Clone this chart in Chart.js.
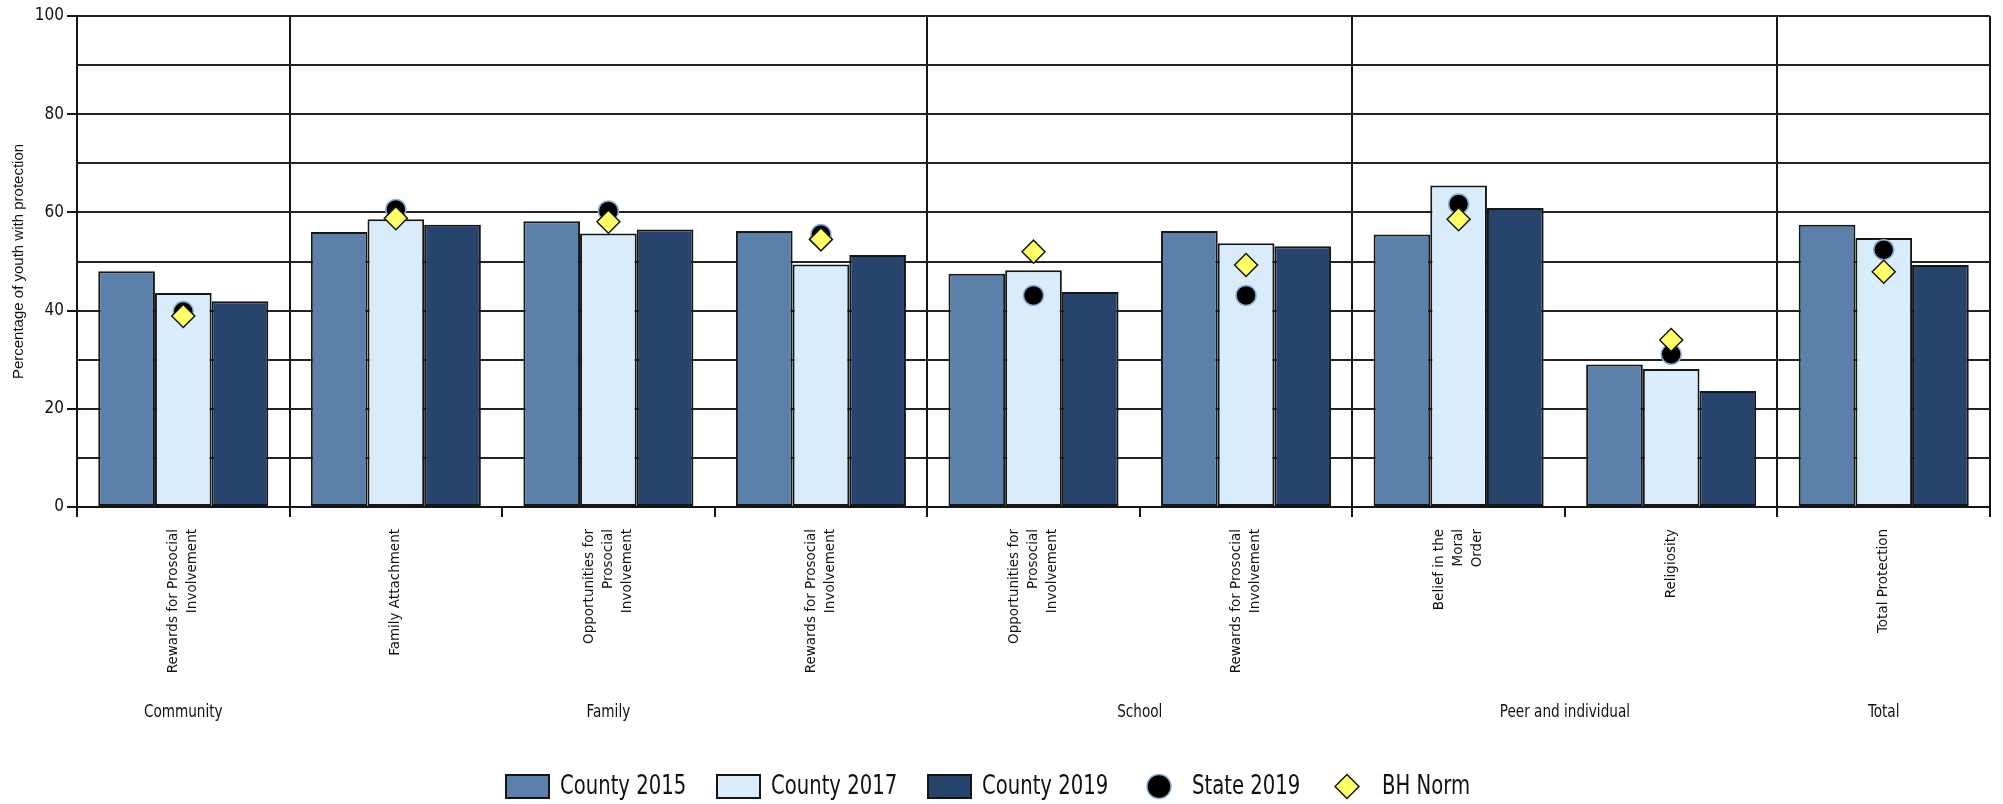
<!DOCTYPE html>
<html>
<head>
<meta charset="utf-8">
<script src="https://cdn.jsdelivr.net/npm/chart.js@4"></script>
<style>
  html, body { margin: 0; padding: 0; background: #fff; }
  #wrap { width: 2003px; height: 804px; position: relative; }
</style>
</head>
<body>
<div id="wrap"><canvas id="chartProteccion"></canvas></div>
<script>
const categorias = [
  ["Rewards for Prosocial", "Involvement"],
  ["Family Attachment"],
  ["Opportunities for", "Prosocial", "Involvement"],
  ["Rewards for Prosocial", "Involvement"],
  ["Opportunities for", "Prosocial", "Involvement"],
  ["Rewards for Prosocial", "Involvement"],
  ["Belief in the", "Moral", "Order"],
  ["Religiosity"],
  ["Total Protection"]
];
const grupos = ["Community", "Family", "School", "Peer and individual", "Total"];
const grupoDesde = [0, 1, 4, 6, 8];
const grupoHasta = [0, 3, 5, 7, 8];

const county2015 = [48.0, 56.0, 58.2, 56.2, 47.5, 56.2, 55.5, 29.0, 57.5];
const county2017 = [43.6, 58.6, 55.7, 49.4, 48.2, 53.7, 65.5, 28.1, 54.8];
const county2019 = [41.9, 57.5, 56.5, 51.3, 43.8, 53.1, 60.9, 23.6, 49.3];
const state2019 = [39.8, 60.6, 60.3, 55.5, 43.1, 43.1, 61.7, 31.1, 52.4];
const bhNorm = [38.9, 58.8, 58.1, 54.5, 52.0, 49.3, 58.6, 34.0, 47.9];

const yTicks = [0, 20, 40, 60, 80, 100];

const COL_2015 = "#5b80a9";
const COL_2017 = "#d8ecfc";
const COL_2019 = "#27446d";
const LINEA = "#161616";
const FUENTE_ESTRECHA = '"DejaVu Sans Condensed", "DejaVu Sans"';

// texto comprimido en horizontal para imitar la fuente condensada del original
function textoEstrecho(ctx, texto, x, y, sx) {
  ctx.save();
  ctx.translate(x, y);
  ctx.scale(sx, 1);
  ctx.fillText(texto, 0, 0);
  ctx.restore();
}

// etiquetas del eje x y grupos, dibujadas a mano para centrar varias lineas
const etiquetasX = {
  id: "etiquetasX",
  afterDraw(chart) {
    const ctx = chart.ctx;
    const xs = chart.scales.x;
    ctx.save();
    ctx.fillStyle = "#111";
    ctx.font = '13.5px "DejaVu Sans"';
    ctx.textAlign = "right";
    ctx.textBaseline = "middle";
    for (let i = 0; i < categorias.length; i++) {
      const lineas = categorias[i];
      const cx = xs.getPixelForValue(i);
      ctx.save();
      ctx.translate(cx, xs.top + 22);
      ctx.rotate(-Math.PI / 2);
      for (let j = 0; j < lineas.length; j++) {
        ctx.fillText(lineas[j], 0, (j - (lineas.length - 1) / 2) * 19);
      }
      ctx.restore();
    }

    ctx.font = "18px " + FUENTE_ESTRECHA;
    ctx.textAlign = "center";
    for (let g = 0; g < grupos.length; g++) {
      const x1 = xs.getPixelForValue(grupoDesde[g]);
      const x2 = xs.getPixelForValue(grupoHasta[g]);
      textoEstrecho(ctx, grupos[g], (x1 + x2) / 2, 712, 0.84);
    }
    ctx.restore();
  }
};

// leyenda propia: cajas para barras, punto y rombo para marcadores
const leyenda = {
  id: "leyenda",
  afterDraw(chart) {
    const ctx = chart.ctx;
    const cy = 786.5;
    const items = [
      { tipo: "caja", color: COL_2015, x: 505, tx: 560, texto: chart.data.datasets[0].label },
      { tipo: "caja", color: COL_2017, x: 716, tx: 771, texto: chart.data.datasets[1].label },
      { tipo: "caja", color: COL_2019, x: 927, tx: 982, texto: chart.data.datasets[2].label },
      { tipo: "punto", x: 1159, tx: 1192, texto: chart.data.datasets[3].label },
      { tipo: "rombo", x: 1347, tx: 1382, texto: chart.data.datasets[4].label }
    ];
    ctx.save();
    ctx.font = "26px " + FUENTE_ESTRECHA;
    ctx.textBaseline = "middle";
    ctx.textAlign = "left";
    for (const it of items) {
      if (it.tipo === "caja") {
        ctx.fillStyle = it.color;
        ctx.fillRect(it.x, cy - 12.5, 45, 25);
        ctx.lineWidth = 2;
        ctx.strokeStyle = LINEA;
        ctx.strokeRect(it.x + 1, cy - 11.5, 43, 23);
      } else if (it.tipo === "punto") {
        ctx.beginPath();
        ctx.arc(it.x, cy, 12, 0, Math.PI * 2);
        ctx.fillStyle = "#000";
        ctx.fill();
        ctx.lineWidth = 1.5;
        ctx.strokeStyle = "#8aaed6";
        ctx.stroke();
      } else {
        ctx.beginPath();
        ctx.moveTo(it.x - 12, cy);
        ctx.lineTo(it.x, cy - 12);
        ctx.lineTo(it.x + 12, cy);
        ctx.lineTo(it.x, cy + 12);
        ctx.closePath();
        ctx.fillStyle = "#ffff66";
        ctx.fill();
        ctx.lineWidth = 1.5;
        ctx.strokeStyle = LINEA;
        ctx.stroke();
      }
      ctx.fillStyle = "#111";
      textoEstrecho(ctx, it.texto, it.tx, cy + 1, 0.84);
    }
    ctx.restore();
  }
};

function crearGrafica() {
  const canvas = document.getElementById("chartProteccion");
  const ctx = canvas.getContext("2d");

  const bordeGrupo = [0, 1, 4, 6, 8];

  new Chart(ctx, {
    type: "bar",
    data: {
      labels: categorias.map(function (l) { return l.join(" "); }),
      datasets: [
        {
          label: "County 2015", data: county2015, backgroundColor: COL_2015,
          borderColor: LINEA, borderWidth: 2, borderSkipped: false, order: 3
        },
        {
          label: "County 2017", data: county2017, backgroundColor: COL_2017,
          borderColor: LINEA, borderWidth: 2, borderSkipped: false, order: 3
        },
        {
          label: "County 2019", data: county2019, backgroundColor: COL_2019,
          borderColor: LINEA, borderWidth: 2, borderSkipped: false, order: 3
        },
        {
          type: "line", label: "State 2019", data: state2019, showLine: false,
          pointStyle: "circle", pointRadius: 10, pointHoverRadius: 10,
          pointBackgroundColor: "#000", pointBorderColor: "#8aaed6", pointBorderWidth: 1.5,
          order: 2
        },
        {
          type: "line", label: "BH Norm", data: bhNorm, showLine: false,
          pointStyle: "rectRot", pointRadius: 11.5, pointHoverRadius: 11.5,
          pointBackgroundColor: "#ffff66", pointBorderColor: LINEA, pointBorderWidth: 1.5,
          order: 1
        }
      ]
    },
    options: {
      responsive: true,
      maintainAspectRatio: false,
      animation: false,
      events: [],
      layout: { padding: { top: 16, right: 8, left: 0, bottom: 0 } },
      datasets: { bar: { barPercentage: 1.0, categoryPercentage: 0.8 } },
      plugins: {
        legend: { display: false },
        tooltip: { enabled: false }
      },
      scales: {
        x: {
          offset: true,
          ticks: { display: false },
          grid: {
            offset: true,
            lineWidth: 2,
            color: function (c) {
              if (c.index === undefined || bordeGrupo.indexOf(c.index) !== -1) return LINEA;
              return "rgba(0,0,0,0)";
            },
            tickColor: LINEA,
            tickLength: 10
          },
          border: { display: true, color: LINEA, width: 2 },
          afterFit: function (s) { s.height = 297; }
        },
        y: {
          min: 0,
          max: 100,
          ticks: {
            stepSize: 10,
            padding: 3,
            color: "#111",
            font: { family: FUENTE_ESTRECHA, size: 17 },
            callback: function (v) { return yTicks.indexOf(v) !== -1 ? v : ""; }
          },
          grid: {
            lineWidth: 2,
            color: "#222",
            tickLength: 10,
            tickColor: function (c) {
              return c.tick && yTicks.indexOf(c.tick.value) !== -1 ? LINEA : "rgba(0,0,0,0)";
            }
          },
          border: { display: true, color: LINEA, width: 2 },
          title: {
            display: true,
            text: "Percentage of youth with protection",
            color: "#111",
            font: { family: '"Liberation Sans"', size: 15 },
            padding: { top: 10, bottom: 0 }
          },
          afterFit: function (s) { s.width = 77; }
        }
      }
    },
    plugins: [etiquetasX, leyenda]
  });
}

document.addEventListener("DOMContentLoaded", function () {
  crearGrafica();
});
</script>
</body>
</html>
